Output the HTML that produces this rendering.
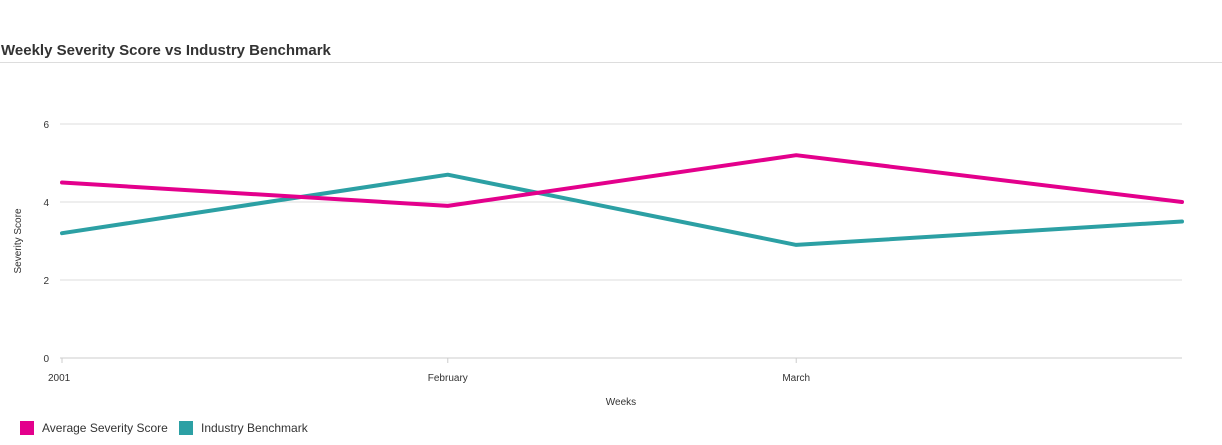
<!DOCTYPE html>
<html><head><meta charset="utf-8"><style>
body{margin:0;background:#fff;font-family:"Liberation Sans",sans-serif;}
#wrap{position:relative;width:1222px;height:445px;overflow:hidden}
#title{position:absolute;left:1px;top:42px;font-size:15px;font-weight:bold;color:#333}
#rule{position:absolute;left:0;top:62px;width:1222px;height:1px;background:#ddd}
.leg{position:absolute;top:421px;font-size:12px;color:#333;display:flex;align-items:center}
.sw{width:14px;height:14px;margin-right:8px}
</style></head><body>
<div id="wrap">
<div id="title">Weekly Severity Score vs Industry Benchmark</div>
<div id="rule"></div>
<svg id="chart" width="1222" height="445" style="position:absolute;left:0;top:0"></svg>
<div class="leg" style="left:20px"><div class="sw" style="background:#e3008c"></div>Average Severity Score</div>
<div class="leg" style="left:179px"><div class="sw" style="background:#2ca0a4"></div>Industry Benchmark</div>
</div>
<script>
const dates=["2001-01-01","2001-02-01","2001-03-01","2001-04-01"];
const avgScore=[4.5,3.9,5.2,4.0];
const benchmark=[3.2,4.7,2.9,3.5];
const yTicks=[0,2,4,6];
const xTickDates=["2001-01-01","2001-02-01","2001-03-01"];
const xTickLabels=["2001","February","March"];
const NS="http://www.w3.org/2000/svg";
const svg=document.getElementById('chart');
const t0=Date.parse(dates[0]),t1=Date.parse(dates[dates.length-1]);
const X0=62,X1=1182,Y0=358,PY=39;
function xs(d){return X0+(Date.parse(d)-t0)/(t1-t0)*(X1-X0);}
function ys(v){return Y0-v*PY;}
function mk(tag,attrs){const e=document.createElementNS(NS,tag);for(const k in attrs)e.setAttribute(k,attrs[k]);svg.appendChild(e);return e;}
yTicks.forEach(v=>{
 const l=mk('line',{x1:60,x2:X1,y1:ys(v),y2:ys(v),stroke:v===0?'#ccc':'#ddd','stroke-width':1});
 
 
 const t=mk('text',{x:49,y:ys(v)+4,'font-size':10,fill:'#333','text-anchor':'end'});
 t.textContent=v;
 
 
});
xTickDates.forEach((d,i)=>{
 const x=xs(d);
 const l=mk('line',{x1:x,x2:x,y1:Y0,y2:Y0+5,stroke:'#ccc'});
 
 
 const t=mk('text',{x:i===0?x-14:x,y:381,'font-size':10,fill:'#333','text-anchor':i===0?'start':'middle'});
 t.textContent=xTickLabels[i];
 
 
});
const xt=mk('text',{x:621,y:405,'font-size':10,fill:'#333','text-anchor':'middle'});
xt.textContent='Weeks';


const yt=mk('text',{x:0,y:0,'font-size':10,fill:'#333','text-anchor':'middle',transform:'translate(21,241) rotate(-90)'});
yt.textContent='Severity Score';


function series(vals,color,name){
 const p=mk('polyline',{points:vals.map((v,i)=>xs(dates[i])+','+ys(v)).join(' '),fill:'none',stroke:color,'stroke-width':4,'stroke-linejoin':'round','stroke-linecap':'round'});
 
 
}
series(benchmark,'#2ca0a4','industry-benchmark-line');
series(avgScore,'#e3008c','average-severity-line');
</script>
</body></html>
